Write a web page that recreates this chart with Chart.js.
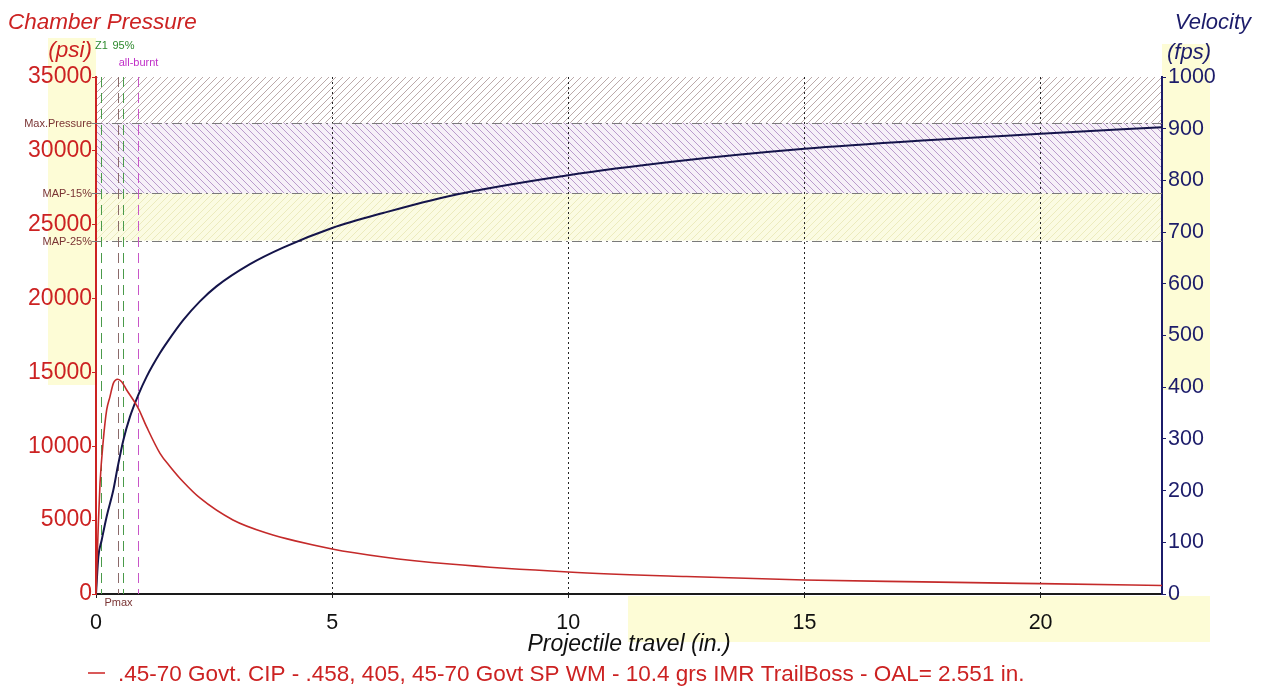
<!DOCTYPE html>
<html>
<head>
<meta charset="utf-8">
<script src="https://cdn.jsdelivr.net/npm/chart.js@4/dist/chart.umd.min.js"></script>
<style>
  body { margin: 0; background: #fff; }
  canvas { display: block; }
</style>
</head>
<body>
<canvas id="qlChart" width="1263" height="697"></canvas>
<script>
// pressure curve (psi) vs projectile travel (in.)
const pressureTravel = [0, 0.05, 0.085, 0.155, 0.226, 0.296, 0.367, 0.46, 0.543, 0.649, 0.79, 0.896, 1.07, 1.355, 1.57, 1.85, 2.2, 2.9, 3.61, 5.0, 6.08, 7.49, 10, 12.5, 15, 17.5, 20, 22.57];
const pressure = [0, 4790, 7490, 10430, 12460, 13360, 14260, 14540, 14370, 13810, 13130, 12570, 11330, 9525, 8620, 7580, 6500, 5010, 4130, 3050, 2510, 2030, 1490, 1180, 950, 820, 700, 580];

// velocity curve (fps)
const velocityTravel = [0, 0.05, 0.12, 0.226, 0.367, 0.46, 0.58, 0.72, 0.896, 1.07, 1.355, 1.53, 1.85, 2.2, 2.55, 3.26, 3.96, 5.0, 6.08, 7.49, 10, 12.2, 15, 17.5, 20, 22.57];
const velocity = [0, 72, 104, 150, 201, 246, 298, 343, 385, 420, 466, 490, 530, 566, 595, 638, 670, 708, 737, 770, 810, 836, 861, 877, 890, 903];

// event markers
const markerTravel = [0.10, 0.46, 0.58, 0.895];
const markerLabels = ['Z1', 'Pmax', '95%', 'all-burnt'];

// pressure limits
const maxPressure = 31900;
const limitValues = [maxPressure, maxPressure * 0.85, maxPressure * 0.75];
const limitLabels = ['Max.Pressure', 'MAP-15%', 'MAP-25%'];

const barrelEnd = 22.57;
const legendText = '.45-70 Govt. CIP - .458, 405, 45-70 Govt SP WM - 10.4 grs IMR TrailBoss - OAL= 2.551 in.';

const FONT = '"Liberation Sans", Arial, sans-serif';
const RED = '#cc2222';
const NAVY = '#1c1c6a';

function hatch(bg, fg, dir) {
  const c = document.createElement('canvas');
  c.width = 7; c.height = 7;
  const g = c.getContext('2d');
  g.fillStyle = bg;
  g.fillRect(0, 0, 7, 7);
  g.strokeStyle = fg;
  g.lineWidth = 1;
  g.beginPath();
  if (dir === '/') {
    g.moveTo(-1, 8); g.lineTo(8, -1);
    g.moveTo(-4, 4); g.lineTo(4, -4);
    g.moveTo(3, 11); g.lineTo(11, 3);
  } else {
    g.moveTo(-1, -1); g.lineTo(8, 8);
    g.moveTo(-4, 3); g.lineTo(4, 11);
    g.moveTo(3, -4); g.lineTo(11, 4);
  }
  g.stroke();
  return g.createPattern(c, 'repeat');
}

const decor = {
  id: 'decor',
  beforeDraw(chart) {
    const ctx = chart.ctx;
    const a = chart.chartArea;
    const y = chart.scales.y;
    ctx.save();
    ctx.fillStyle = '#fff';
    ctx.fillRect(0, 0, chart.width, chart.height);
    // pale yellow highlight strips
    ctx.fillStyle = '#fdfcd6';
    ctx.fillRect(48, 38, a.left - 48, 347);
    ctx.fillRect(a.right, 44, 48, 346);
    ctx.fillRect(628, a.bottom + 2, 1210 - 628, 46);
    // hatched pressure bands
    const yTop = y.getPixelForValue(y.max);
    const y0 = y.getPixelForValue(limitValues[0]);
    const y1 = y.getPixelForValue(limitValues[1]);
    const y2 = y.getPixelForValue(limitValues[2]);
    ctx.fillStyle = hatch('#ffffff', '#bba9a9', '/');
    ctx.fillRect(a.left, yTop, a.right - a.left, y0 - yTop);
    ctx.fillStyle = hatch('#f6f0f8', '#b99bcc', '\\');
    ctx.fillRect(a.left, y0, a.right - a.left, y1 - y0);
    ctx.fillStyle = hatch('#fbfbe2', '#ecebbd', '/');
    ctx.fillRect(a.left, y1, a.right - a.left, y2 - y1);
    ctx.restore();
  },
  beforeDatasetsDraw(chart) {
    const ctx = chart.ctx;
    const a = chart.chartArea;
    const x = chart.scales.x;
    const y = chart.scales.y;
    ctx.save();
    // limit lines
    ctx.strokeStyle = '#7a7a7a';
    ctx.lineWidth = 1;
    ctx.setLineDash([10, 4, 2, 4]);
    ctx.font = '11px ' + FONT;
    ctx.textAlign = 'right';
    ctx.textBaseline = 'middle';
    limitValues.forEach((v, i) => {
      const py = Math.round(y.getPixelForValue(v)) + 0.5;
      ctx.beginPath();
      ctx.moveTo(a.left - 4, py);
      ctx.lineTo(a.right, py);
      ctx.stroke();
      ctx.fillStyle = '#7a3434';
      ctx.fillText(limitLabels[i], a.left - 4, py);
    });
    // event markers
    const colors = ['#4a9a4a', '#8a6a6a', '#4a9a4a', '#c855c8'];
    const textColors = ['#2e8a2e', '#7a3434', '#2e8a2e', '#c030c8'];
    const labelY = [46, a.bottom + 9, 46, 63];
    ctx.setLineDash([10, 6]);
    ctx.textAlign = 'center';
    markerTravel.forEach((t, i) => {
      const px = Math.round(x.getPixelForValue(t)) + 0.5;
      ctx.strokeStyle = colors[i];
      ctx.beginPath();
      ctx.moveTo(px, a.top);
      ctx.lineTo(px, a.bottom);
      ctx.stroke();
      ctx.fillStyle = textColors[i];
      ctx.fillText(markerLabels[i], px, labelY[i]);
    });
    ctx.restore();
  },
  afterDraw(chart) {
    const ctx = chart.ctx;
    ctx.save();
    ctx.font = 'italic 22.5px ' + FONT;
    ctx.textBaseline = 'alphabetic';
    ctx.fillStyle = RED;
    ctx.textAlign = 'left';
    ctx.fillText('Chamber Pressure', 8, 29);
    ctx.textAlign = 'right';
    ctx.fillText('(psi)', 92, 57);
    ctx.fillStyle = NAVY;
    ctx.font = 'italic 22px ' + FONT;
    ctx.fillText('Velocity', 1251, 29);
    ctx.textAlign = 'left';
    ctx.fillText('(fps)', 1167, 59);
    // x axis title
    ctx.fillStyle = '#111';
    ctx.font = 'italic 23px ' + FONT;
    ctx.textAlign = 'center';
    ctx.fillText('Projectile travel (in.)', 629, 651);
    // legend
    ctx.strokeStyle = RED;
    ctx.lineWidth = 1.5;
    ctx.beginPath();
    ctx.moveTo(88, 673);
    ctx.lineTo(105, 673);
    ctx.stroke();
    ctx.fillStyle = RED;
    ctx.font = '22.5px ' + FONT;
    ctx.textAlign = 'left';
    ctx.fillText(legendText, 118, 681);
    ctx.restore();
  }
};

Chart.defaults.font.family = FONT;

new Chart(document.getElementById('qlChart'), {
  type: 'line',
  data: {
    datasets: [{
      label: legendText,
      data: pressureTravel.map((t, i) => ({ x: t, y: pressure[i] })),
      borderColor: '#c42a2a',
      borderWidth: 1.6,
      pointRadius: 0,
      cubicInterpolationMode: 'monotone',
      yAxisID: 'y'
    }, {
      label: 'Velocity',
      data: velocityTravel.map((t, i) => ({ x: t, y: velocity[i] })),
      borderColor: '#14144a',
      borderWidth: 2,
      pointRadius: 0,
      cubicInterpolationMode: 'monotone',
      yAxisID: 'y1'
    }]
  },
  options: {
    responsive: false,
    animation: false,
    events: [],
    layout: { padding: { top: 77, left: 0, right: 0, bottom: 58 } },
    plugins: { legend: { display: false }, tooltip: { enabled: false } },
    scales: {
      x: {
        type: 'linear',
        min: 0,
        max: barrelEnd,
        afterFit: s => { s.height = 45; },
        ticks: { stepSize: 5, includeBounds: false, color: '#111', font: { size: 21.5 }, padding: 12, callback: v => String(v) },
        grid: {
          color: c => (c.tick && c.tick.value === 0) ? 'rgba(0,0,0,0)' : '#222',
          lineWidth: 1,
          tickLength: 4,
          tickColor: '#222'
        },
        border: { color: '#1a1a1a', width: 2, dash: [2, 3] }
      },
      y: {
        position: 'left',
        min: 0,
        max: 35000,
        afterFit: s => { s.width = 96; },
        ticks: { stepSize: 5000, color: RED, font: { size: 23 }, padding: 0, callback: v => String(v) },
        grid: { drawOnChartArea: false, tickLength: 4, tickColor: RED },
        border: { color: RED, width: 2 }
      },
      y1: {
        position: 'right',
        min: 0,
        max: 1000,
        afterFit: s => { s.width = 101; },
        ticks: { stepSize: 100, color: NAVY, font: { size: 21.5 }, padding: 2, callback: v => String(v) },
        grid: { drawOnChartArea: false, tickLength: 4, tickColor: NAVY },
        border: { color: NAVY, width: 2 }
      }
    }
  },
  plugins: [decor]
});
</script>
</body>
</html>
